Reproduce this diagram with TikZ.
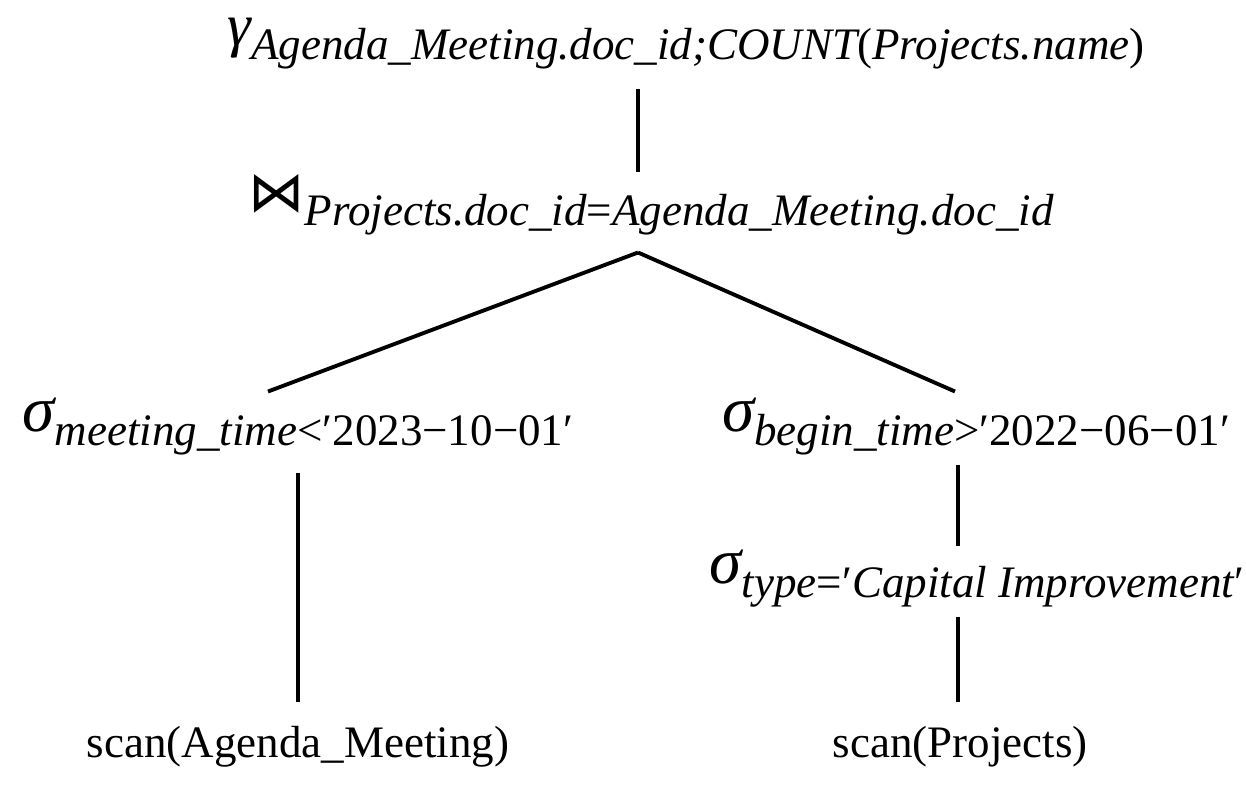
\documentclass[tikz,border=0pt]{standalone}
\usepackage{fontspec}
\setmainfont{Liberation Serif}
\newfontfamily\joinfont{DejaVu Sans}
\usetikzlibrary{calc}
% operator symbol and its subscript
\newcommand{\opsym}[1]{{\fontsize{18.5}{20}\selectfont\itshape #1}}
\newcommand{\opsub}[1]{\raisebox{-4.25pt}{\fontsize{12.8}{14}\selectfont #1}}

\begin{document}
\begin{tikzpicture}[x=0.01cm, y=-0.01cm, line width=1.1pt, font=\fontsize{12.8}{14}\selectfont,
	op/.style={inner sep=0pt, outer sep=3.4pt, anchor=base}]
	\useasboundingbox (0,0) rectangle (1246,784);
	% operators
	\node[op] (group) at (686,45) {{\fontsize{17}{18}\selectfont\itshape γ}\opsub{\itshape Agenda\_Meeting.doc\_id;COUNT\upshape(\itshape Projects.name\upshape)}};
	\node[op] (join) at (651,211) {{\fontsize{16}{18}\selectfont\joinfont ⋈}\opsub{\itshape Projects.doc\_id\upshape=\itshape Agenda\_Meeting.doc\_id}};
	\node[op] (selA) at (298,431) {\opsym{σ}\opsub{\itshape meeting\_time\upshape<′2023−10−01′}};
	\node[op] (selB) at (976,431) {\opsym{σ}\opsub{\itshape begin\_time\upshape>′2022−06−01′}};
	\node[op] (selC) at (977,583) {\opsym{σ}\opsub{\itshape type\upshape=′\itshape Capital Improvement\upshape′}};
	% scans
	\node[op] (scanA) at (298,757) {scan(Agenda\_Meeting)};
	\node[op] (scanP) at (960,757) {scan(Projects)};
	% edges
	\draw ($(group.south)+(-48,8)$) -- ($(join.north)+(-13,10)$);
	\draw ($(join.south)+(-13,5)$) -- ($(selA.north)+(-30,6)$);
	\draw ($(join.south)+(-13,5)$) -- ($(selB.north)+(-21,6)$);
	\draw ($(selA.south)+(0,5)$) -- ($(scanA.north)+(0,-12)$);
	\draw ($(selB.south)+(-18,-3)$) -- ($(selC.north)+(-19,8)$);
	\draw ($(selC.south)+(-19,-3)$) -- ($(scanP.north)+(-2,-12)$);
\end{tikzpicture}
\end{document}
